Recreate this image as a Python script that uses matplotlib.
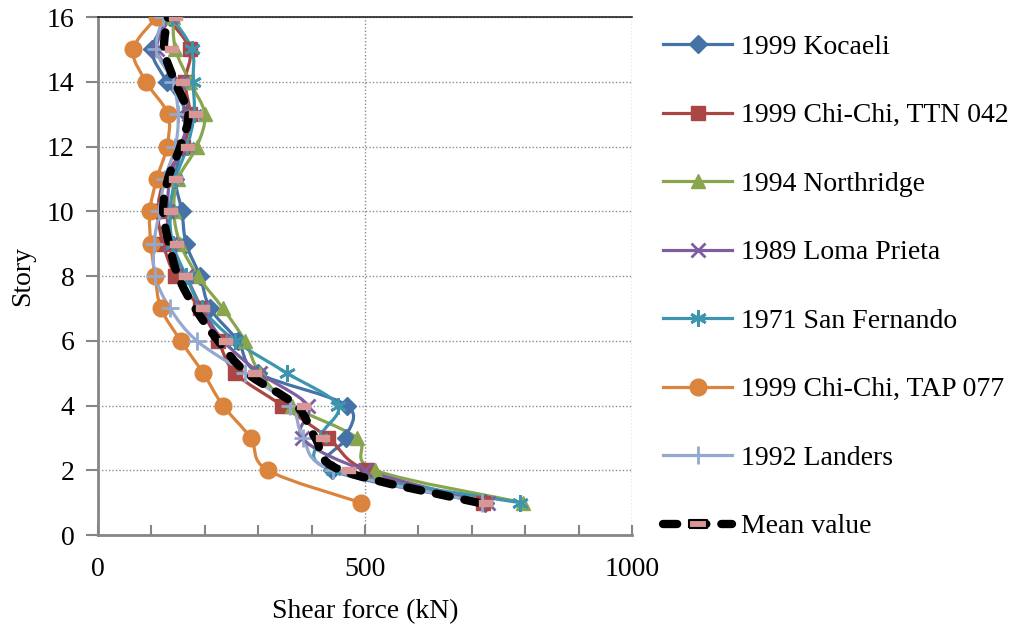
import matplotlib
matplotlib.use('Agg')
import matplotlib.pyplot as plt
from matplotlib.path import Path
from matplotlib.patches import PathPatch
from matplotlib.lines import Line2D
import numpy as np

plt.rcParams['font.family'] = ['Liberation Serif', 'DejaVu Serif']

# data: shear force (kN) per story, story 1..16
stories = list(range(1, 17))
kocaeli = [725, 438, 464, 466, 300, 262, 210, 191, 165, 157, 145, 157, 167, 129, 101, 135]
ttn042 = [721, 503, 431, 345, 257, 225, 191, 145, 122, 112, 125, 160, 172, 163, 172, 129]
northridge = [796, 519, 485, 363, 303, 275, 234, 187, 154, 142, 150, 185, 200, 172, 145, 140]
loma_prieta = [730, 500, 382, 393, 303, 235, 195, 165, 135, 130, 135, 155, 170, 150, 110, 135]
san_fernando = [790, 440, 416, 449, 354, 257, 195, 165, 140, 135, 145, 167, 180, 178, 176, 138]
tap077 = [492, 318, 286, 234, 197, 155, 118, 107, 99, 97, 110, 129, 131, 90, 66, 110]
landers = [720, 440, 384, 360, 275, 185, 135, 107, 105, 115, 125, 145, 150, 140, 109, 122]
mean_value = [712, 455, 407, 371, 279, 225, 182, 150, 133, 122, 131, 154, 169, 144, 124, 131]

labels = ['1999 Kocaeli', '1999 Chi-Chi, TTN 042', '1994 Northridge', '1989 Loma Prieta',
          '1971 San Fernando', '1999 Chi-Chi, TAP 077', '1992 Landers']
series = [kocaeli, ttn042, northridge, loma_prieta, san_fernando, tap077, landers]
colors = ['#4572A7', '#AA4643', '#89A54E', '#7D5FA0', '#3D96AE', '#DB843D', '#93A9CF']
markers = ['D', 's', '^', 'x', (6, 2, 0), 'o', '+']
msizes = [9, 10, 10, 10, 12, 12, 13]


def smooth_path(x, y):
    # Catmull-Rom -> cubic Bezier, like Excel smoothed lines
    pts = np.column_stack([x, y]).astype(float)
    n = len(pts)
    verts = [pts[0]]
    codes = [Path.MOVETO]
    for i in range(n - 1):
        p0 = pts[i - 1] if i > 0 else pts[i]
        p1 = pts[i]
        p2 = pts[i + 1]
        p3 = pts[i + 2] if i + 2 < n else pts[i + 1]
        c1 = p1 + (p2 - p0) / 6.0
        c2 = p2 - (p3 - p1) / 6.0
        verts += [c1, c2, p2]
        codes += [Path.CURVE4] * 3
    return Path(verts, codes)


fig = plt.figure(figsize=(10.24, 6.27), dpi=100)
ax = fig.add_axes([0.0957, 0.1467, 0.5215, 0.826])

for vals, c, m, ms in zip(series, colors, markers, msizes):
    ax.add_patch(PathPatch(smooth_path(vals, stories), fill=False, edgecolor=c, lw=2.3, zorder=3))
    ax.plot(vals, stories, linestyle='none', marker=m, color=c, markersize=ms,
            markeredgewidth=2 if m in ('x', '+', (6, 2, 0)) else 1, zorder=4)

# mean value line
mean_dash = (0, (1.7, 1.8))
ax.add_patch(PathPatch(smooth_path(mean_value, stories), fill=False, edgecolor='black',
                       lw=6, linestyle=mean_dash, capstyle='round', zorder=5))
rect = Path([(0.04, -0.22), (1.0, -0.22), (1.0, 0.22), (0.04, 0.22), (0.04, -0.22)])
ax.plot(mean_value, stories, linestyle='none', marker=rect, markersize=19.6,
        markerfacecolor='#D99694', markeredgecolor='#D99694', zorder=6)

ax.set_xlim(0, 1000)
ax.set_ylim(0, 16)
ax.set_xticks([0, 500, 1000])
ax.set_xticks(np.arange(0, 1001, 100), minor=True)
ax.set_yticks(np.arange(0, 17, 2))
ax.tick_params(axis='x', which='both', direction='in', length=7, width=1.5, color='#868686',
               labelsize=20, pad=16)
ax.tick_params(axis='y', direction='out', length=9, width=1.5, color='#868686',
               labelsize=20, pad=8)
ax.grid(True, which='major', linestyle=(0, (1, 1.5)), color='#8C8C8C', linewidth=1)
for s in ['left', 'bottom']:
    ax.spines[s].set_color('#868686')
    ax.spines[s].set_linewidth(2)
ax.spines['top'].set_color('#222222')
ax.spines['top'].set_linewidth(1.2)
ax.spines['right'].set_visible(False)
ax.set_axisbelow(True)

ax.set_xlabel('Shear force (kN)', fontsize=20, labelpad=12)
ax.set_ylabel('Story', fontsize=20, labelpad=8)

handles = []
for c, m, ms in zip(colors, markers, msizes):
    handles.append(Line2D([], [], color=c, lw=2.3, marker=m, markersize=ms,
                          markeredgewidth=2 if m in ('x', '+', (6, 2, 0)) else 1))
leg_rect = Path([(-1, -0.45), (1, -0.45), (1, 0.45), (-1, 0.45), (-1, -0.45)])
handles.append(Line2D([], [], color='black', lw=6, linestyle=mean_dash,
                      dash_capstyle='round', marker=leg_rect, markersize=13,
                      markerfacecolor='#D99694', markeredgecolor='black',
                      markeredgewidth=1.5))
leg_labels = labels + ['Mean value']
leg = fig.legend(handles, leg_labels, loc='upper left', bbox_to_anchor=(0.623, 0.985),
                 frameon=False, fontsize=20, handlelength=2.5, handletextpad=0.3,
                 labelspacing=1.55)

fig.savefig('out.png', dpi=100)
